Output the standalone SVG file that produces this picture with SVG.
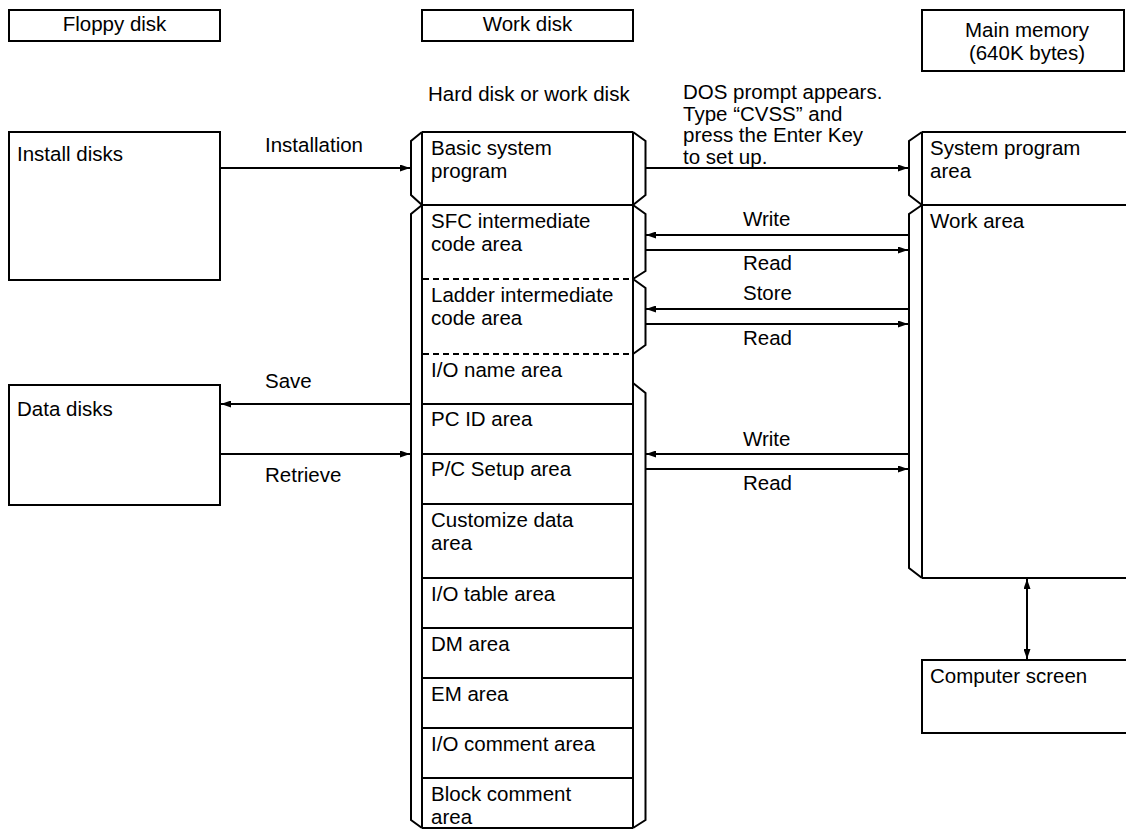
<svg xmlns="http://www.w3.org/2000/svg" width="1126" height="830" viewBox="0 0 1126 830">
<style>
text { font-family: "Liberation Sans", Arial, sans-serif; font-size: 20.5px; fill: #000; }
.c { text-anchor: middle; }
.box { fill: #fff; stroke: #000; stroke-width: 2; }
.ln { fill: none; stroke: #000; stroke-width: 2; }
.dash { fill: none; stroke: #000; stroke-width: 2; stroke-dasharray: 6 4; }
.arr { fill: none; stroke: #000; stroke-width: 2; marker-end: url(#ah); }
.arr2 { fill: none; stroke: #000; stroke-width: 2; marker-start: url(#ah); marker-end: url(#ah); }
</style>
<defs>
<marker id="ah" viewBox="0 0 10 7" refX="10" refY="3.5" markerWidth="10" markerHeight="7" markerUnits="userSpaceOnUse" orient="auto-start-reverse"><path d="M0,0 L10,3.5 L0,7 z" fill="#000"/></marker>
</defs>
<rect x="0" y="0" width="1126" height="830" fill="#fff"/>

<g id="hdr-floppy"><rect class="box" x="9" y="10" width="211" height="31"/><text class="c" x="114.5" y="31">Floppy disk</text></g>
<g id="hdr-work"><rect class="box" x="422" y="10" width="211" height="31"/><text class="c" x="527.5" y="31">Work disk</text></g>
<g id="hdr-main"><rect class="box" x="922" y="10" width="202" height="61"/><text class="c" x="1027" y="37">Main memory</text><text class="c" x="1027" y="60">(640K bytes)</text></g>

<g id="install-disks"><rect class="box" x="9" y="132" width="211" height="148"/><text x="17" y="161">Install disks</text></g>
<g id="data-disks"><rect class="box" x="9" y="385" width="211" height="120"/><text x="17" y="416">Data disks</text></g>

<g id="work-disk">
<text x="428" y="101">Hard disk or work disk</text>
<path class="ln" d="M422,132 L411,141 V195 L422,205 M422,205 L411,214 V820 L422,828"/>
<path class="ln" d="M633,132 L645.5,141 V195 L633,205 M633,205 L645.5,214 V271 L633,279 M633,279 L645.5,288 V345 L633,354 M633,383 L645.5,393 V820 L633,828"/>
<path class="ln" d="M422,132 H633 M422,132 V828 M633,132 V828 M422,205 H633 M422,404 H633 M422,454 H633 M422,504 H633 M422,578 H633 M422,628 H633 M422,678 H633 M422,728 H633 M422,778 H633 M422,828 H633"/>
<path class="dash" d="M423,279 H633 M423,354 H633"/>
</g>
<g id="basic-system"><text x="431" y="155">Basic system</text><text x="431" y="178">program</text></g>
<g id="sfc-area"><text x="431" y="228">SFC intermediate</text><text x="431" y="251">code area</text></g>
<g id="ladder-area"><text x="431" y="302">Ladder intermediate</text><text x="431" y="325">code area</text></g>
<g id="io-name-area"><text x="431" y="377">I/O name area</text></g>
<g id="pcid-area"><text x="431" y="426">PC ID area</text></g>
<g id="pcsetup-area"><text x="431" y="476">P/C Setup area</text></g>
<g id="customize-area"><text x="431" y="527">Customize data</text><text x="431" y="550">area</text></g>
<g id="iotable-area"><text x="431" y="601">I/O table area</text></g>
<g id="dm-area"><text x="431" y="651">DM area</text></g>
<g id="em-area"><text x="431" y="701">EM area</text></g>
<g id="iocomment-area"><text x="431" y="751">I/O comment area</text></g>
<g id="blockcomment-area"><text x="431" y="801">Block comment</text><text x="431" y="824">area</text></g>

<g id="main-memory">
<path class="ln" d="M922,132 H1126 M922,205 H1126 M922,578 H1126 M922,132 V578"/>
<path class="ln" d="M922,132 L909,141 V195 L922,205 M922,205 L909,214 V568 L922,578"/>
</g>
<g id="system-program-area"><text x="930" y="155">System program</text><text x="930" y="178">area</text></g>
<g id="work-area"><text x="930" y="228">Work area</text></g>
<g id="computer-screen"><rect class="box" x="922" y="660" width="215" height="73"/><text x="930" y="683">Computer screen</text></g>

<g id="connectors">
<path class="arr" d="M220,168 H410"/>
<text x="265" y="152">Installation</text>
<path class="arr" d="M646,168 H908"/>
<text x="683" y="99">DOS prompt appears.</text>
<text x="683" y="120.5">Type “CVSS” and</text>
<text x="683" y="142">press the Enter Key</text>
<text x="683" y="163.5">to set up.</text>
<path class="arr" d="M909,235 H646"/>
<text x="743" y="226">Write</text>
<path class="arr" d="M646,250 H908"/>
<text x="743" y="270">Read</text>
<path class="arr" d="M909,309 H646"/>
<text x="743" y="300">Store</text>
<path class="arr" d="M646,324 H908"/>
<text x="743" y="345">Read</text>
<path class="arr" d="M411,404 H221"/>
<text x="265" y="388">Save</text>
<path class="arr" d="M220,454 H410"/>
<text x="265" y="482">Retrieve</text>
<path class="arr" d="M909,454 H646"/>
<text x="743" y="446">Write</text>
<path class="arr" d="M646,469 H908"/>
<text x="743" y="490">Read</text>
<path class="arr2" d="M1027,579 V659"/>
</g>
</svg>
